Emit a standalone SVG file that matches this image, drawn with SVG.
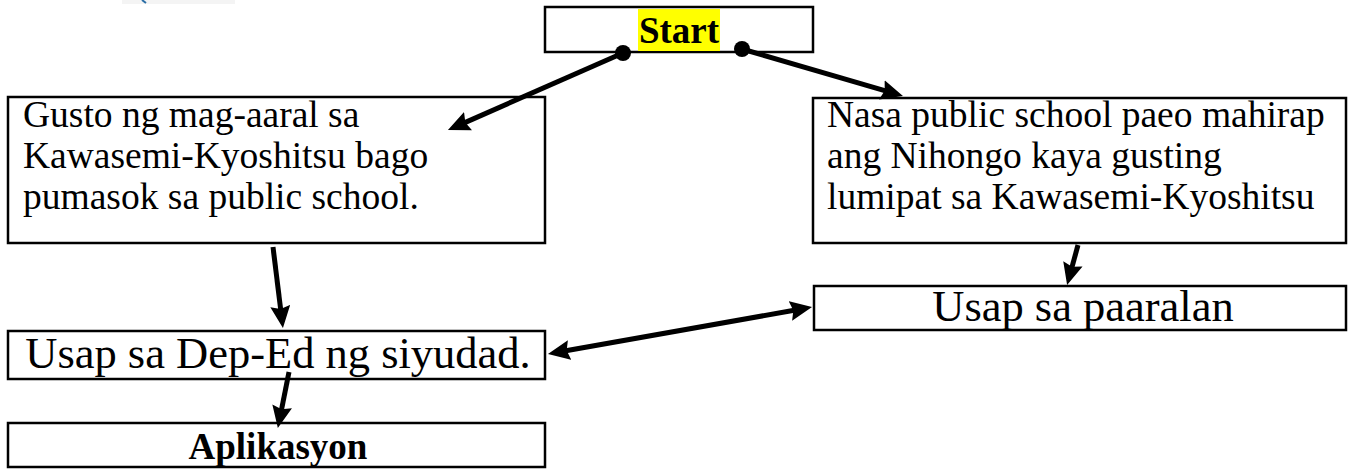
<svg xmlns="http://www.w3.org/2000/svg" width="1356" height="471" viewBox="0 0 1356 471">
<style>
  .box { fill: #ffffff; stroke: #000000; stroke-width: 2.5; }
  .t { font-family: "Liberation Serif", "Times New Roman", serif; font-size: 37.5px; fill: #000000; }
  .big { font-size: 44.5px; }
  .b { font-weight: bold; font-size: 37px; }
  .c { text-anchor: middle; }
  .conn { stroke: #000000; stroke-width: 5; fill: none; }
  .dot { fill: #000000; }
</style>
<defs>
  <marker id="ah" markerUnits="userSpaceOnUse" markerWidth="26" markerHeight="22" refX="11" refY="10" orient="auto-start-reverse" viewBox="0 0 26 22">
    <path d="M0,0 L22,10 L0,20 L3,10 z" fill="#000000"/>
  </marker>
</defs>
<g id="logo-fragment">
  <rect x="122" y="0" width="113" height="4" fill="#f4f4f4"/>
  <path d="M142,0 L146,3" stroke="#2a6ea6" stroke-width="2"/>
</g>
<g id="node-start">
  <rect class="box" x="545" y="7" width="268" height="45"/>
  <rect x="638" y="9" width="82" height="42" fill="#ffff00"/>
  <text class="t b c" x="679" y="43">Start</text>
</g>
<g id="node-left">
  <rect class="box" x="8" y="97" width="537" height="146"/>
  <text class="t" x="23" y="127">Gusto ng mag-aaral sa</text>
  <text class="t" x="23" y="168">Kawasemi-Kyoshitsu bago</text>
  <text class="t" x="23" y="209">pumasok sa public school.</text>
</g>
<g id="node-right">
  <rect class="box" x="813" y="98" width="533" height="145"/>
  <text class="t" x="827" y="127">Nasa public school paeo mahirap</text>
  <text class="t" x="827" y="168">ang Nihongo kaya gusting</text>
  <text class="t" x="827" y="209">lumipat sa Kawasemi-Kyoshitsu</text>
</g>
<g id="node-paaralan">
  <rect class="box" x="814" y="286" width="532" height="44"/>
  <text class="t big c" x="1083" y="321">Usap sa paaralan</text>
</g>
<g id="node-deped">
  <rect class="box" x="8" y="331" width="537" height="48"/>
  <text class="t big c" x="278" y="368">Usap sa Dep-Ed ng siyudad.</text>
</g>
<g id="node-aplikasyon">
  <rect class="box" x="8" y="423" width="537" height="44"/>
  <text class="t b c" x="278" y="459">Aplikasyon</text>
</g>
<g id="connectors">
  <line class="conn" x1="623" y1="53" x2="458" y2="125.6" marker-end="url(#ah)"/>
  <circle class="dot" cx="623" cy="53" r="8"/>
  <line class="conn" x1="742" y1="49" x2="892.4" y2="92.9" marker-end="url(#ah)"/>
  <circle class="dot" cx="742" cy="49" r="8"/>
  <line class="conn" x1="273" y1="247" x2="281.6" y2="317" marker-end="url(#ah)"/>
  <line class="conn" x1="1078" y1="245" x2="1070" y2="274.4" marker-end="url(#ah)"/>
  <line class="conn" x1="558.8" y1="352" x2="801.2" y2="309" marker-start="url(#ah)" marker-end="url(#ah)"/>
  <line class="conn" x1="289" y1="372" x2="280" y2="417.2" marker-end="url(#ah)"/>
</g>
</svg>
